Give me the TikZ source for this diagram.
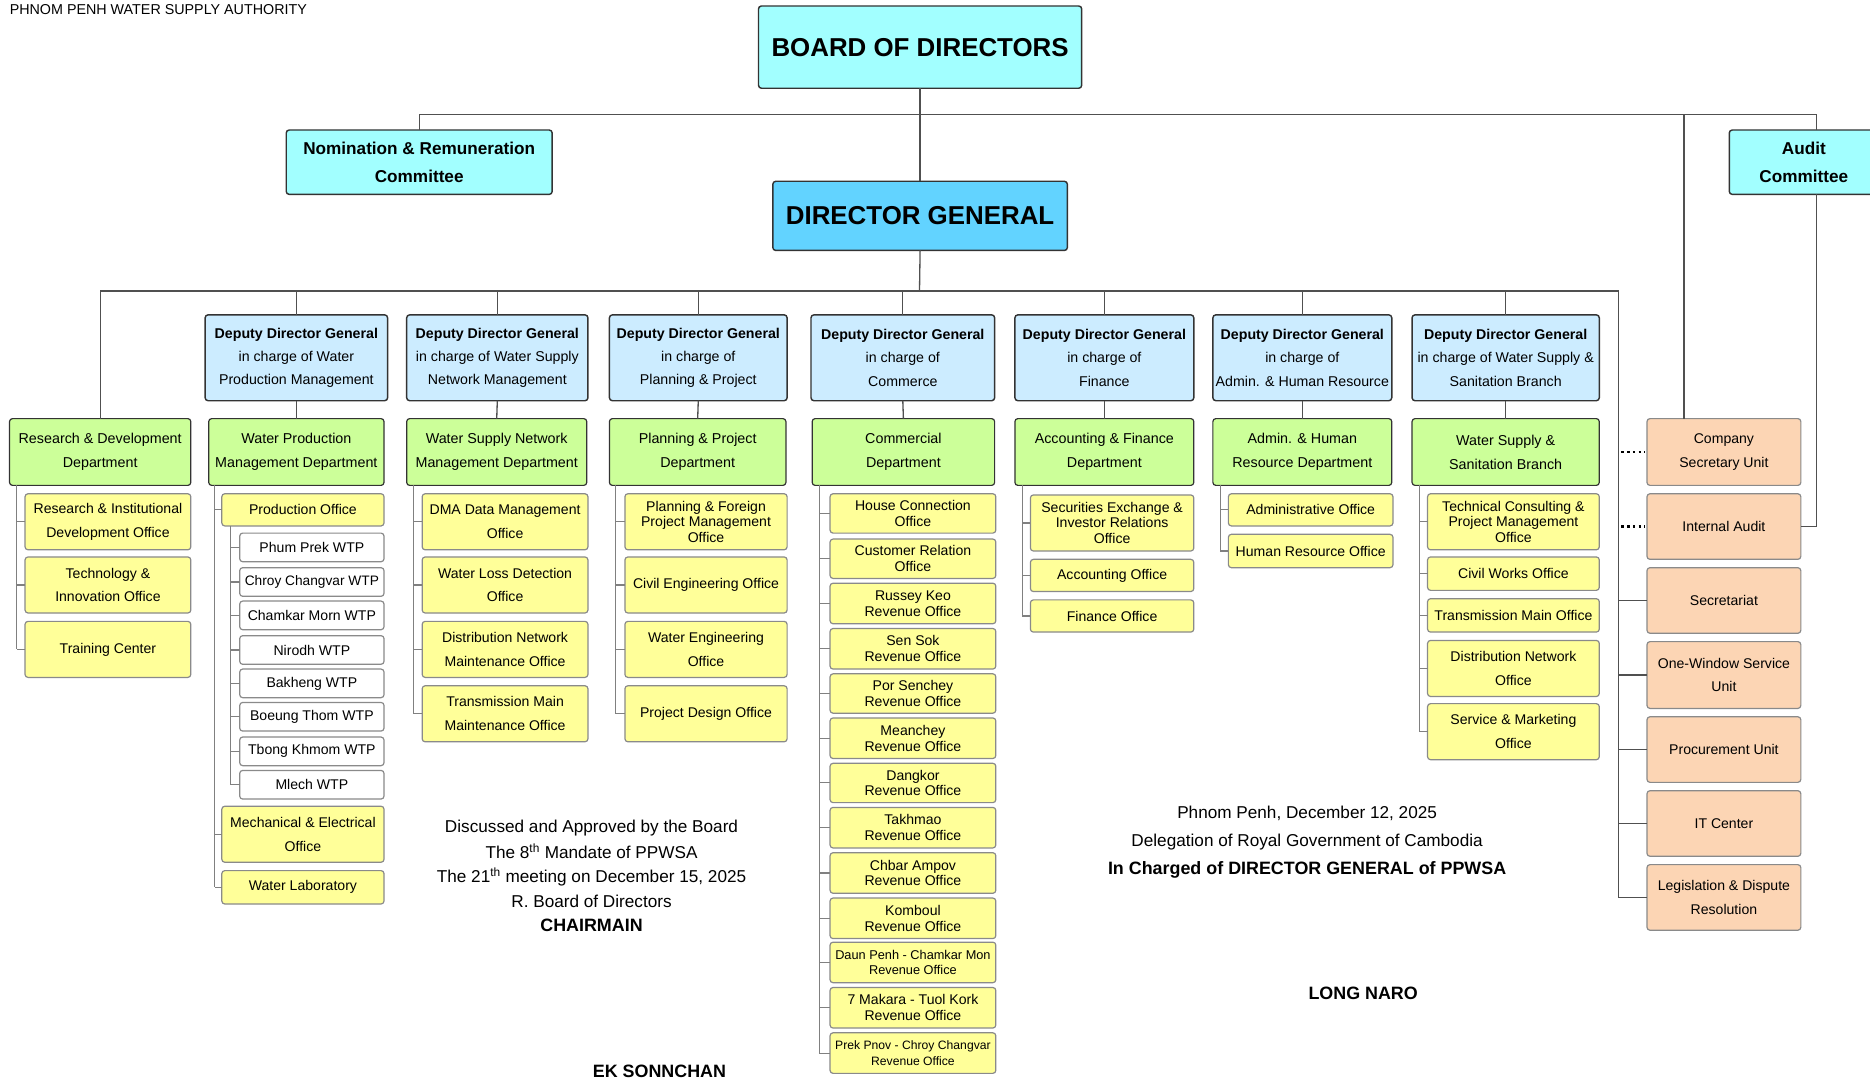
\documentclass[tikz,border=0pt]{standalone}
\usepackage{fontspec}
\setmainfont{Liberation Sans}
\usetikzlibrary{calc}
\newcommand\fsz[2]{\fontsize{#1}{#2}\selectfont}
\newcommand\bx[7]{\node[#2,minimum width={#5-#3},minimum height={#6-#4}] (#1) at ({(#3+#5)/2},{(#4+#6)/2}) {#7};}
\newcommand\ddg[1]{\textbf{Deputy Director General}\\#1}
\definecolor{cTop}{HTML}{A2FFFF}
\definecolor{cDG}{HTML}{62D3FF}
\definecolor{cDep}{HTML}{CCECFF}
\definecolor{cGrn}{HTML}{CCFF99}
\definecolor{cYel}{HTML}{FFFF99}
\definecolor{cOrg}{HTML}{FCD5B4}
\definecolor{cLine}{HTML}{505050}
\definecolor{cBord}{HTML}{333333}
\definecolor{cBordL}{HTML}{8A8A8A}
\definecolor{cBr}{HTML}{808080}
\begin{document}
\begin{tikzpicture}[x=1pt,y=-1pt,
  box/.style={draw=cBord, line width=1pt, rounded corners=2.5pt, inner sep=0pt, outer sep=0pt, align=center, font=\fsz{11.8}{20}},
  topbox/.style={box, fill=cTop, line width=1.2pt},
  dgbox/.style={box, fill=cDG, line width=1.2pt},
  depbox/.style={box, fill=cDep, line width=1.2pt, font=\fsz{11.9}{19.5}},
  grnbox/.style={box, fill=cGrn, font=\fsz{12}{20}},
  yelbox/.style={box, fill=cYel, draw=cBordL},
  yelt/.style={yelbox, font=\fsz{11.8}{13.2}},
  wtpbox/.style={box, fill=white, draw=cBordL},
  orgbox/.style={box, fill=cOrg, draw=cBordL},
  conn/.style={draw=cLine, line width=1.1pt},
  bconn/.style={draw=cBr, line width=0.9pt},
  dotconn/.style={draw=black, line width=2.2pt, dash pattern=on 2.2pt off 2.6pt},
  txt/.style={inner sep=0pt, outer sep=0pt, font=\fsz{14.4}{17}},
  btxt/.style={inner sep=0pt, outer sep=0pt, font=\fsz{15}{17}\bfseries}
]
\useasboundingbox (0,0) rectangle (1568,905.6);
\fill[white] (0,0) rectangle (1568,905.6);

\node[inner sep=0pt, anchor=west, font=\fsz{12}{14}] (title) at (8,8) {PHNOM PENH WATER SUPPLY AUTHORITY};

% top level
\bx{board}{topbox,font=\fsz{21.7}{24}\bfseries}{636}{5}{907}{74}{BOARD OF DIRECTORS}
\bx{nom}{topbox,font=\fsz{14.4}{23}\bfseries}{240}{109}{463}{163}{Nomination \& Remuneration\\Committee}
\bx{audit}{topbox,font=\fsz{14.4}{23}\bfseries}{1450}{109}{1575}{163}{Audit\\Committee}
\bx{dg}{dgbox,font=\fsz{21.7}{24}\bfseries}{648}{152}{895}{210}{DIRECTOR GENERAL}

% deputies
\bx{d2}{depbox}{172}{264}{325}{336}{\ddg{in charge of Water\\Production Management}}
\bx{d3}{depbox}{341}{264}{493}{336}{\ddg{in charge of Water Supply\\Network Management}}
\bx{d4}{depbox}{511}{264}{660}{336}{\ddg{in charge of\\Planning \& Project}}
\bx{d5}{depbox}{680}{264}{834}{336}{\ddg{in charge of\\Commerce}}
\bx{d6}{depbox}{851}{264}{1001}{336}{\ddg{in charge of\\Finance}}
\bx{d7}{depbox}{1017}{264}{1167}{336}{\ddg{in charge of\\Admin. \& Human Resource}}
\bx{d8}{depbox}{1184}{264}{1341}{336}{\ddg{in charge of Water Supply \&\\Sanitation Branch}}

% departments
\bx{g1}{grnbox}{8}{351}{160}{407}{Research \& Development\\Department}
\bx{g2}{grnbox}{175}{351}{322}{407}{Water Production\\Management Department}
\bx{g3}{grnbox}{341}{351}{492}{407}{Water Supply Network\\Management Department}
\bx{g4}{grnbox}{511}{351}{659}{407}{Planning \& Project\\Department}
\bx{g5}{grnbox}{681}{351}{834}{407}{Commercial\\Department}
\bx{g6}{grnbox}{851}{351}{1001}{407}{Accounting \& Finance\\Department}
\bx{g7}{grnbox}{1017}{351}{1167}{407}{Admin. \& Human\\Resource Department}
\bx{g8}{grnbox}{1184}{351}{1341}{407}{Water Supply \&\\Sanitation Branch}

% units under DG
\bx{csu}{orgbox}{1381}{351}{1510}{407}{Company\\Secretary Unit}
\bx{ia}{orgbox}{1381}{414}{1510}{469}{Internal Audit}
\bx{sec}{orgbox}{1381}{476}{1510}{531}{Secretariat}
\bx{ow}{orgbox}{1381}{538}{1510}{594}{One-Window Service\\Unit}
\bx{pu}{orgbox}{1381}{601}{1510}{656}{Procurement Unit}
\bx{itc}{orgbox}{1381}{663}{1510}{718}{IT Center}
\bx{leg}{orgbox}{1381}{725}{1510}{780}{Legislation \& Dispute\\Resolution}

% column 1
\bx{ri}{yelbox}{21}{414}{160}{461}{Research \& Institutional\\Development Office}
\bx{ti}{yelbox}{21}{467}{160}{514}{Technology \&\\Innovation Office}
\bx{tc}{yelbox}{21}{521}{160}{568}{Training Center}

% column 2
\bx{po}{yelbox}{186}{414}{322}{441}{Production Office}
\bx{w1}{wtpbox}{201}{447}{322}{471}{Phum Prek WTP}
\bx{w2}{wtpbox,font=\fsz{11.5}{14}}{201}{476}{322}{500}{Chroy Changvar WTP}
\bx{w3}{wtpbox}{201}{504}{322}{528}{Chamkar Morn WTP}
\bx{w4}{wtpbox}{201}{533}{322}{557}{Nirodh WTP}
\bx{w5}{wtpbox}{201}{561}{322}{585}{Bakheng WTP}
\bx{w6}{wtpbox}{201}{589}{322}{613}{Boeung Thom WTP}
\bx{w7}{wtpbox}{201}{618}{322}{642}{Tbong Khmom WTP}
\bx{w8}{wtpbox}{201}{646}{322}{670}{Mlech WTP}
\bx{me}{yelbox}{186}{676}{322}{723}{Mechanical \& Electrical\\Office}
\bx{wl}{yelbox}{186}{730}{322}{758}{Water Laboratory}

% column 3
\bx{dma}{yelbox}{354}{414}{493}{461}{DMA Data Management\\Office}
\bx{wld}{yelbox}{354}{467}{493}{514}{Water Loss Detection\\Office}
\bx{dnm}{yelbox}{354}{521}{493}{568}{Distribution Network\\Maintenance Office}
\bx{tmm}{yelbox}{354}{575}{493}{622}{Transmission Main\\Maintenance Office}

% column 4
\bx{pf}{yelt}{524}{414}{660}{461}{Planning \& Foreign\\Project Management\\Office}
\bx{ce}{yelbox}{524}{467}{660}{514}{Civil Engineering Office}
\bx{we}{yelbox}{524}{521}{660}{568}{Water Engineering\\Office}
\bx{pd}{yelbox}{524}{575}{660}{622}{Project Design Office}

% column 5
\bx{c1}{yelt}{696}{414}{835}{447}{House Connection\\Office}
\bx{c2}{yelt}{696}{452}{835}{485}{Customer Relation\\Office}
\bx{c3}{yelt}{696}{489}{835}{523}{Russey Keo\\Revenue Office}
\bx{c4}{yelt}{696}{527}{835}{561}{Sen Sok\\Revenue Office}
\bx{c5}{yelt}{696}{565}{835}{598}{Por Senchey\\Revenue Office}
\bx{c6}{yelt}{696}{602}{835}{636}{Meanchey\\Revenue Office}
\bx{c7}{yelt}{696}{640}{835}{673}{Dangkor\\Revenue Office}
\bx{c8}{yelt}{696}{677}{835}{711}{Takhmao\\Revenue Office}
\bx{c9}{yelt}{696}{715}{835}{749}{Chbar Ampov\\Revenue Office}
\bx{c10}{yelt}{696}{753}{835}{787}{Komboul\\Revenue Office}
\bx{c11}{yelt,font=\fsz{10.7}{13.2}}{696}{790}{835}{824}{Daun Penh - Chamkar Mon\\Revenue Office}
\bx{c12}{yelt}{696}{828}{835}{862}{7 Makara - Tuol Kork\\Revenue Office}
\bx{c13}{yelt,font=\fsz{10.2}{13.2}}{696}{866}{835}{900}{Prek Pnov - Chroy Changvar\\Revenue Office}

% column 6
\bx{se}{yelt}{864}{415}{1001}{462}{Securities Exchange \&\\Investor Relations\\Office}
\bx{ao}{yelbox}{864}{469}{1001}{496}{Accounting Office}
\bx{fo}{yelbox}{864}{503}{1001}{530}{Finance Office}

% column 7
\bx{adm}{yelbox}{1030}{414}{1168}{441}{Administrative Office}
\bx{hr}{yelbox}{1030}{448}{1168}{476}{Human Resource Office}

% column 8
\bx{tcp}{yelt}{1197}{414}{1341}{461}{Technical Consulting \&\\Project Management\\Office}
\bx{cw}{yelbox}{1197}{467}{1341}{495}{Civil Works Office}
\bx{tmo}{yelbox}{1197}{502}{1341}{530}{Transmission Main Office}
\bx{dno}{yelbox}{1197}{537}{1341}{584}{Distribution Network\\Office}
\bx{smo}{yelbox}{1197}{590}{1341}{637}{Service \& Marketing\\Office}

% coordinates
\coordinate (topbus) at (771,96);
\coordinate (dgbus) at (771,244);
\coordinate (trunk) at (1357,0);
\coordinate (csx) at (1412,0);
\coordinate (aux) at (1523,0);
\coordinate (bk1) at (14,0);
\coordinate (bk2) at (180,0);
\coordinate (bk2b) at (193,0);
\coordinate (bk3) at (347,0);
\coordinate (bk4) at (516,0);
\coordinate (bk5) at (687,0);
\coordinate (bk6) at (857,0);
\coordinate (bk7) at (1023,0);
\coordinate (bk8) at (1190,0);

% board level connectors
\draw[conn] (board.south) -- (dg.north);
\draw[conn] (nom.north) |- (topbus) -| (audit.north -| aux);
\draw[conn] (csu.north -| csx) -- (csx |- topbus);
\draw[conn] (audit.south -| aux) |- (ia.east);

% DG level
\draw[conn] (dg.south) -- (dgbus);
\draw[conn] (g1.north) |- (dgbus) -| (leg.west -| trunk) -- (leg.west);
\foreach \n in {2,...,8}{
  \draw[conn] (d\n.north) -- (d\n.north |- dgbus);
  \draw[conn] (d\n.south) -- (g\n.north);
}
\foreach \n in {sec,ow,pu,itc}{
  \draw[conn] (\n.west) -- (\n.west -| trunk);
}
\draw[dotconn] ($(csu.west -| trunk)+(2.5,0)$) -- ($(csu.west)+(-2,0)$);
\draw[dotconn] ($(ia.west -| trunk)+(2.5,0)$) -- ($(ia.west)+(-2,0)$);

% brackets
\draw[bconn] (g1.south -| bk1) -- (tc.west -| bk1);
\foreach \n in {ri,ti,tc}{\draw[bconn] (\n.west) -- (\n.west -| bk1);}
\draw[bconn] (g2.south -| bk2) -- (wl.west -| bk2);
\foreach \n in {po,me,wl}{\draw[bconn] (\n.west) -- (\n.west -| bk2);}
\draw[bconn] (po.south -| bk2b) -- (w8.west -| bk2b);
\foreach \n in {w1,w2,w3,w4,w5,w6,w7,w8}{\draw[bconn] (\n.west) -- (\n.west -| bk2b);}
\draw[bconn] (g3.south -| bk3) -- (tmm.west -| bk3);
\foreach \n in {dma,wld,dnm,tmm}{\draw[bconn] (\n.west) -- (\n.west -| bk3);}
\draw[bconn] (g4.south -| bk4) -- (pd.west -| bk4);
\foreach \n in {pf,ce,we,pd}{\draw[bconn] (\n.west) -- (\n.west -| bk4);}
\draw[bconn] (g5.south -| bk5) -- (c13.west -| bk5);
\foreach \n in {c1,c2,c3,c4,c5,c6,c7,c8,c9,c10,c11,c12,c13}{\draw[bconn] (\n.west) -- (\n.west -| bk5);}
\draw[bconn] (g6.south -| bk6) -- (fo.west -| bk6);
\foreach \n in {se,ao,fo}{\draw[bconn] (\n.west) -- (\n.west -| bk6);}
\draw[bconn] (g7.south -| bk7) -- (hr.west -| bk7);
\foreach \n in {adm,hr}{\draw[bconn] (\n.west) -- (\n.west -| bk7);}
\draw[bconn] (g8.south -| bk8) -- (smo.west -| bk8);
\foreach \n in {tcp,cw,tmo,dno,smo}{\draw[bconn] (\n.west) -- (\n.west -| bk8);}

% signature texts
\node[txt] (l1) at (496,694) {Discussed and Approved by the Board};
\node[txt] (l2) at (496,714) {The 8\textsuperscript{th} Mandate of PPWSA};
\node[txt] (l3) at (496,735) {The 21\textsuperscript{th} meeting on December 15, 2025};
\node[txt] (l4) at (496,756) {R. Board of Directors};
\node[btxt] (l5) at (496,776) {CHAIRMAIN};
\node[btxt] (l6) at (553,898) {EK SONNCHAN};

\node[txt] (r1) at (1096,682) {Phnom Penh, December 12, 2025};
\node[txt] (r2) at (1096,706) {Delegation of Royal Government of Cambodia};
\node[btxt] (r3) at (1096,729) {In Charged of DIRECTOR GENERAL of PPWSA};
\node[btxt] (r4) at (1143,833) {LONG NARO};
\end{tikzpicture}
\end{document}
